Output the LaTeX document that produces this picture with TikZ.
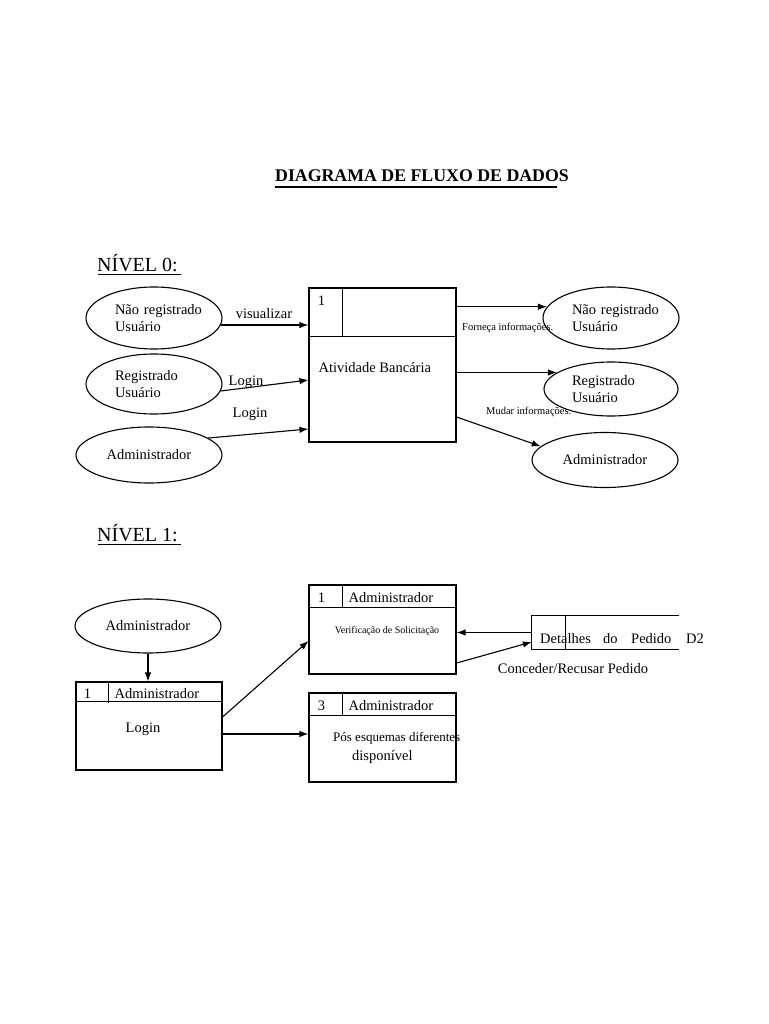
\documentclass[tikz,border=0pt]{standalone}
\usepackage{fontspec}
\setmainfont{Liberation Serif}
\usetikzlibrary{arrows.meta,shapes.geometric,calc}
\newcommand{\ind}[1]{\hspace*{8pt}\mbox{#1}}
\begin{document}
\begin{tikzpicture}[x=1pt,y=-1pt,
  every node/.style={font=\fontsize{14.5}{16.5}\selectfont, inner sep=0pt},
  ent/.style={draw, ellipse, line width=1.1pt, align=left},
  ent2/.style={ent, text width=94},
  proc/.style={draw, rectangle, line width=1.1pt},
  sep/.style={line width=1.1pt},
  flow/.style={line width=1.1pt, -{Latex[length=9pt,width=6.5pt]}},
  small/.style={font=\fontsize{10.5}{12}\selectfont},
  head/.style={font=\fontsize{20}{22}\selectfont, anchor=base west}
]
\useasboundingbox (0,0) rectangle (768,1024);

% title
\node[font=\bfseries\fontsize{17.8}{20}\selectfont, anchor=base] (T) at (422,182) {DIAGRAMA DE FLUXO DE DADOS};
\draw[line width=2pt] (275,187.5) -- (557,187.5);

% ---------- NIVEL 0 ----------
\node[head] (N0) at (97,271) {NÍVEL 0:};
\draw[line width=0.8pt] (98,274) -- (181,274);

\node[ent2, minimum width=136, minimum height=62] (E1) at (154,318) {\ind{Não registrado}\\\ind{Usuário}};
\node[ent2, minimum width=136, minimum height=60] (E2) at (154,384) {\ind{Registrado}\\\ind{Usuário}};
\node[ent, minimum width=146, minimum height=56] (E3) at (149,455) {Administrador};

\node[proc, minimum width=147, minimum height=154] (P0) at (382.5,365) {};
\draw[sep] ($(P0.north west)+(0,49)$) -- ($(P0.north east)+(0,49)$);
\draw[sep] ($(P0.north west)+(34,0)$) -- ($(P0.north west)+(34,49)$);
\node (P0n) at ($(P0.north west)+(13,13)$) {1};
\node[anchor=west] (P0t) at ($(P0.north west)+(10,80)$) {Atividade Bancária};

\node[ent2, minimum width=136, minimum height=62] (E4) at (611,318) {\ind{Não registrado}\\\ind{Usuário}};
\node[ent2, minimum width=134, minimum height=54] (E5) at (611,389) {\ind{Registrado}\\\ind{Usuário}};
\node[ent, minimum width=146, minimum height=55] (E6) at (605,460) {Administrador};

\draw[flow] (E1.-6) -- (E1.-6 -| P0.west);
\draw[flow] (E2.-6) -- ($(P0.west)+(0,15)$);
\draw[flow] (E3.16) -- ($(P0.west)+(0,64)$);
\node (l1) at (264,314) {visualizar};
\node (l2) at (246,382) {Login};
\node (l3) at (250,414) {Login};

\draw[flow] (P0.east |- E4.170) -- (E4.170);
\draw[flow] (P0.east |- E5.163) -- (E5.163);
\draw[flow] ($(P0.east)+(0,52)$) -- (E6.168);
\node[small, anchor=west] (l4) at (462,328) {Forneça informações.};
\node[small, anchor=west] (l5) at (486,412) {Mudar informações.};

% ---------- NIVEL 1 ----------
\node[head] (N1) at (97,541) {NÍVEL 1:};
\draw[line width=0.8pt] (98,544) -- (181,544);

\node[ent, minimum width=146, minimum height=54] (A) at (148,626) {Administrador};

\node[proc, minimum width=146, minimum height=88] (B1) at (149,726) {};
\draw[sep] ($(B1.north west)+(0,20)$) -- ($(B1.north east)+(0,20)$);
\draw[sep] ($(B1.north west)+(33,0)$) -- ($(B1.north west)+(33,22)$);
\node (B1n) at ($(B1.north west)+(12,12)$) {1};
\node[anchor=west] (B1h) at ($(B1.north west)+(39,12)$) {Administrador};
\node (B1t) at (143,729) {Login};

\node[proc, minimum width=147, minimum height=89] (B2) at (382.5,629.5) {};
\draw[sep] ($(B2.north west)+(0,23)$) -- ($(B2.north east)+(0,23)$);
\draw[sep] ($(B2.north west)+(34,0)$) -- ($(B2.north west)+(34,23)$);
\node (B2n) at ($(B2.north west)+(13,13)$) {1};
\node[anchor=west] (B2h) at ($(B2.north west)+(40,13)$) {Administrador};
\node[font=\fontsize{10}{12}\selectfont] (B2t) at (387,631) {Verificação de Solicitação};

\node[proc, minimum width=147, minimum height=89] (B3) at (382.5,737.5) {};
\draw[sep] ($(B3.north west)+(0,23)$) -- ($(B3.north east)+(0,23)$);
\draw[sep] ($(B3.north west)+(34,0)$) -- ($(B3.north west)+(34,23)$);
\node (B3n) at ($(B3.north west)+(13,13)$) {3};
\node[anchor=west] (B3h) at ($(B3.north west)+(40,13)$) {Administrador};
\node[anchor=west, font=\fontsize{13}{15}\selectfont] (B3t1) at (333,738) {Pós esquemas diferentes};
\node[anchor=west] (B3t2) at (352,757) {disponível};

% data store
\node[minimum width=147, minimum height=33] (D) at (605.5,632.5) {};
\draw[sep] (D.north east) -- (D.north west) -- (D.south west) -- (D.south east);
\draw[sep] ($(D.north west)+(34,0)$) -- ($(D.south west)+(34,0)$);
\node[anchor=base west] (D1) at (540,643) {Detalhes};
\node[anchor=base west] (D2) at (603,643) {do};
\node[anchor=base west] (D3) at (631,643) {Pedido};
\node[anchor=base west] (D4) at (686,643) {D2};

\draw[flow] (A.south) -- (A.south |- B1.north);
\draw[flow] ($(B1.east)+(0,-9)$) -- ($(B2.west)+(0,11.5)$);
\draw[flow] ($(B1.east)+(0,8)$) -- ($(B3.west)+(0,-3.5)$);
\draw[flow] (D.west) -- (D.west -| B2.east);
\draw[flow] ($(B2.east)+(0,33.5)$) -- ($(D.west)+(0,9.5)$);
\node (l6) at (573,669) {Conceder/Recusar Pedido};

\end{tikzpicture}
\end{document}
